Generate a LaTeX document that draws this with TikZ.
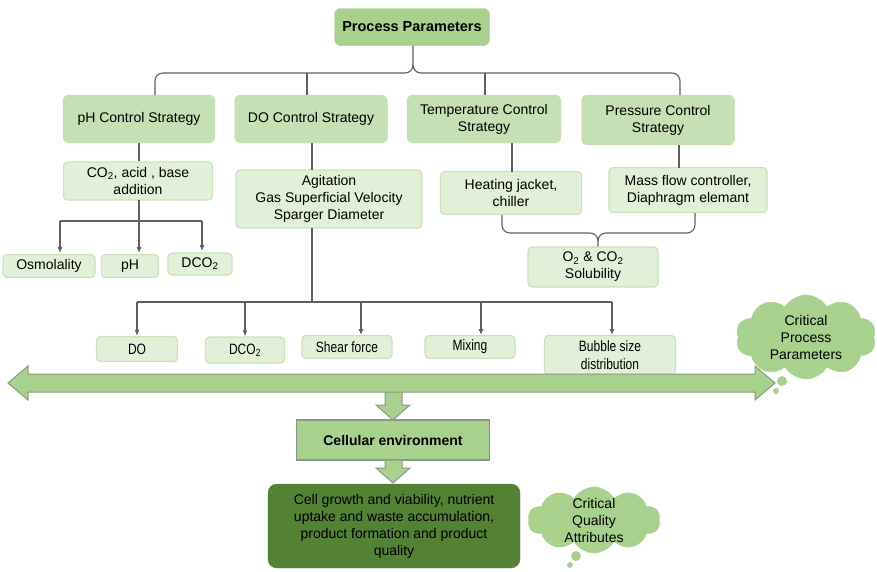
\documentclass[tikz,border=0pt]{standalone}
\usepackage{fontspec}
\setmainfont{Liberation Sans}
\newfontfamily\condfont[FakeStretch=0.8]{Liberation Sans}
\usetikzlibrary{shapes.symbols,arrows.meta}
\definecolor{ppfill}{HTML}{A9D18E}
\definecolor{stfill}{HTML}{C5E0B4}
\definecolor{ltfill}{HTML}{E2F0D9}
\definecolor{ltedge}{HTML}{C9E3BA}
\definecolor{darkbox}{HTML}{548235}
\definecolor{conn}{HTML}{5F5F5F}
\definecolor{arredge}{HTML}{8A9A80}
\tikzset{
  base/.style={align=center,inner sep=2pt,font=\fontsize{14}{17}\selectfont,text=black},
  ppbox/.style={base,fill=ppfill,draw=ppfill,rounded corners=6pt,font=\fontsize{14.5}{17}\selectfont\bfseries},
  stbox/.style={base,fill=stfill,draw=stfill,rounded corners=6pt},
  ltbox/.style={base,fill=ltfill,draw=ltedge,line width=1.2pt,rounded corners=4pt},
  rowbox/.style={ltbox,font=\condfont\fontsize{15}{17.5}\selectfont},
  cline/.style={draw=conn,line width=1.1pt},
  carrow/.style={cline,-{Latex[length=6pt,width=5pt]}},
  bigarrow/.style={fill=ppfill,draw=arredge,line width=1pt,line join=miter},
  cloudy/.style={cloud,cloud puffs=10,cloud puff arc=120,cloud ignores aspect,fill=ppfill,draw=ppfill,base,inner sep=-8pt},
}
\begin{document}
\begin{tikzpicture}[x=1pt,y=-1pt]
\useasboundingbox (0,0) rectangle (877,571);
% top
\node[ppbox,minimum width=155pt,minimum height=37pt] (pp) at (412,27) {Process Parameters};
\node[stbox,minimum width=152pt,minimum height=48pt] (ph) at (139,119) {pH Control Strategy};
\node[stbox,minimum width=153pt,minimum height=48pt] (do) at (311,119) {DO Control Strategy};
\node[stbox,minimum width=154pt,minimum height=48pt] (tc) at (484,119) {Temperature Control\\Strategy};
\node[stbox,minimum width=153pt,minimum height=50pt] (pc) at (658,120) {Pressure Control\\Strategy};
% second level
\node[ltbox,minimum width=149pt,minimum height=38pt] (co) at (138,181) {CO\textsubscript{2}, acid , base\\addition};
\node[ltbox,minimum width=186pt,minimum height=58pt] (ag) at (329,199) {Agitation\\Gas Superficial Velocity\\Sparger Diameter};
\node[ltbox,minimum width=141pt,minimum height=43pt] (hj) at (511,193) {Heating jacket,\\chiller};
\node[ltbox,minimum width=158pt,minimum height=45pt] (mf) at (688,190) {Mass flow controller,\\Diaphragm elemant};
\node[ltbox,minimum width=130pt,minimum height=40pt] (sol) at (593,267) {O\textsubscript{2} \& CO\textsubscript{2}\\Solubility};
% pH outputs
\node[ltbox,minimum width=92pt,minimum height=23pt] (osm) at (49,266) {Osmolality};
\node[ltbox,minimum width=57pt,minimum height=23pt] (phv) at (130,266) {pH};
\node[ltbox,minimum width=64pt,minimum height=22pt] (dc1) at (200,264) {DCO\textsubscript{2}};
% DO outputs
\node[rowbox,minimum width=81pt,minimum height=25pt] (dov) at (137,349) {DO};
\node[rowbox,minimum width=79pt,minimum height=26pt] (dc2) at (245,350) {DCO\textsubscript{2}};
\node[rowbox,minimum width=90pt,minimum height=23pt] (sf) at (347,347) {Shear force};
\node[rowbox,minimum width=90pt,minimum height=23pt] (mx) at (470,347) {Mixing};
\node[rowbox,minimum width=131pt,minimum height=39pt] (bb) at (610,355) {Bubble size\\distribution};
% braces top
\coordinate (btip) at (413,65);
\draw[cline] (155,95) -- (155,81) to[out=90,in=180] (163,73) -- (405,73) to[out=0,in=-90] (btip) -- (pp.south -| btip);
\draw[cline] (btip) to[out=-90,in=180] (421,73) -- (672,73) to[out=0,in=90] (680,81) -- (680,95);
\draw[cline] (307,73) -- (307,95);
\draw[cline] (485,73) -- (485,95);
% strategy to second level
\draw[cline] (ph.south) -- (co.north -| ph.south);
\draw[cline] (312,143) -- (312,170);
\draw[cline] (512,143) -- (512,172);
\draw[cline] (679,145) -- (679,168);
% pH outputs
\coordinate (phj) at (139,221);
\draw[cline] (139,200) -- (phj);
\draw[cline] (60,221) -- (202,221);
\draw[carrow] (60,221) -- (60,253);
\draw[carrow] (phj) -- (139,253);
\draw[carrow] (202,221) -- (202,251);
% DO outputs
\coordinate (doj) at (312,302);
\draw[cline] (312,228) -- (doj);
\draw[cline] (137,302) -- (612,302);
\draw[carrow] (137,302) -- (dov.north);
\draw[carrow] (245,302) -- (dc2.north);
\draw[carrow] (361,302) -- (361,335);
\draw[carrow] (481,302) -- (481,335);
\draw[carrow] (612,302) -- (612,335);
% lower brace
\coordinate (ltip) at (598,241);
\draw[cline] (502,215) -- (502,225) to[out=-90,in=180] (510,233) -- (590,233) to[out=0,in=90] (ltip) -- (sol.north -| ltip);
\draw[cline] (695,213) -- (695,225) to[out=-90,in=0] (687,233) -- (606,233) to[out=180,in=90] (ltip);
% big arrows
\draw[bigarrow] (385,390) -- (402,390) -- (402,405) -- (410,405) -- (393,420) -- (376,405) -- (385,405) -- cycle;
\draw[bigarrow] (8,383) -- (28,366) -- (28,374) -- (755,374) -- (755,366) -- (775,383) -- (755,400) -- (755,392) -- (28,392) -- (28,400) -- cycle;
\node[base,fill=ppfill,draw=arredge,line width=1.2pt,minimum width=193pt,minimum height=40pt,font=\fontsize{14}{17}\selectfont\bfseries] (ce) at (393,440) {Cellular environment};
\draw[bigarrow] (385,460) -- (402,460) -- (402,468) -- (410,468) -- (393,483) -- (376,468) -- (385,468) -- cycle;
\node[base,fill=darkbox,draw=darkbox,rounded corners=9pt,minimum width=252pt,minimum height=84pt] (cell) at (394,526) {Cell growth and viability, nutrient\\uptake and waste accumulation,\\product formation and product\\quality};
% clouds
\node[cloudy,minimum width=140pt,minimum height=84pt] (cpp) at (806,337) {Critical\\Process\\Parameters};
\fill[ppfill] (782,381) circle (5pt);
\fill[ppfill] (776,391) circle (3pt);
\node[cloudy,minimum width=132pt,minimum height=66pt] (cqa) at (594,520) {Critical\\Quality\\Attributes};
\fill[ppfill] (576,556) circle (5pt);
\fill[ppfill] (570,565) circle (3pt);
\end{tikzpicture}
\end{document}
